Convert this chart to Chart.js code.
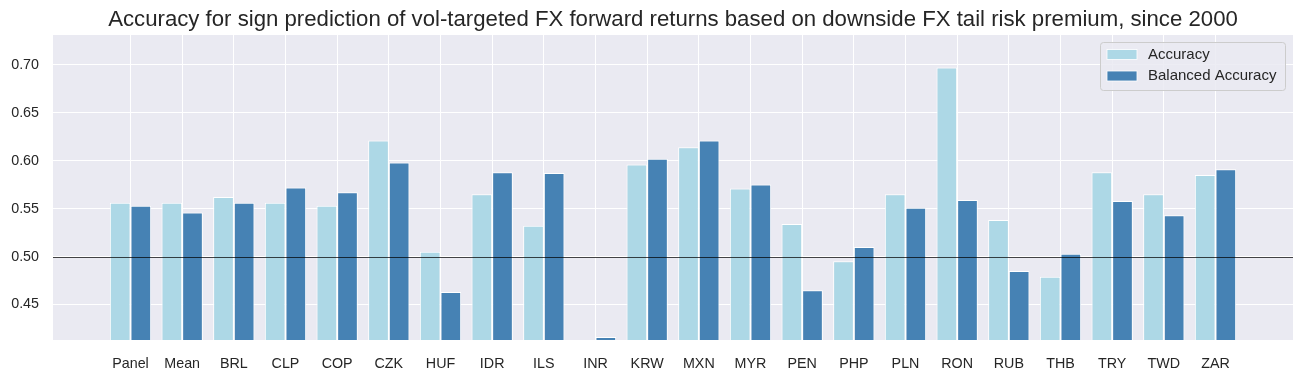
<!DOCTYPE html>
<html>
<head>
<meta charset="utf-8">
<script src="https://cdn.jsdelivr.net/npm/chart.js@4.4.1/dist/chart.umd.min.js"></script>
<style>
  html, body { margin: 0; padding: 0; background: #ffffff; }
  #wrap { width: 1303px; height: 379px; }
</style>
</head>
<body>
<div id="wrap"><canvas id="c" width="1303" height="379"></canvas></div>
<script>
const categories = ['Panel','Mean','BRL','CLP','COP','CZK','HUF','IDR','ILS','INR','KRW','MXN','MYR','PEN','PHP','PLN','RON','RUB','THB','TRY','TWD','ZAR'];
const accuracy = [0.556,0.556,0.562,0.556,0.553,0.621,0.505,0.565,0.532,0.400,0.596,0.614,0.571,0.534,0.495,0.565,0.697,0.538,0.479,0.588,0.565,0.585];
const balancedAccuracy = [0.553,0.546,0.556,0.572,0.567,0.598,0.463,0.588,0.587,0.416,0.602,0.621,0.575,0.465,0.510,0.551,0.559,0.485,0.503,0.558,0.543,0.591];
const yTicks = [0.45,0.50,0.55,0.60,0.65,0.70];
const seriesNames = ['Accuracy','Balanced Accuracy'];
const titleText = 'Accuracy for sign prediction of vol-targeted FX forward returns based on downside FX tail risk premium, since 2000';

const FONT = "'Liberation Sans', Arial, sans-serif";
const TEXT = '#262626';
const COL_ACC = '#add8e6';
const COL_BAL = '#4682b4';

// padding categories at both ends to reproduce the wide side margins
const labels = [''].concat(categories, ['']);
const pad = arr => [null].concat(arr, [null]);
const lastIdx = labels.length - 1;

const bgPlugin = {
  id: 'bg',
  beforeDraw(chart) {
    const {ctx, chartArea: a} = chart;
    ctx.save();
    ctx.fillStyle = '#eaeaf2';
    ctx.fillRect(a.left, a.top, a.right - a.left, a.bottom - a.top);
    ctx.restore();
  }
};

const titlePlugin = {
  id: 'titleCentered',
  afterDraw(chart) {
    const {ctx, chartArea: a} = chart;
    ctx.save();
    ctx.font = '22.2px ' + FONT;
    ctx.fillStyle = TEXT;
    ctx.textAlign = 'center';
    ctx.textBaseline = 'alphabetic';
    ctx.fillText(titleText, (a.left + a.right) / 2, 26);
    ctx.restore();
  }
};

const refLinePlugin = {
  id: 'refline',
  afterDatasetsDraw(chart) {
    const {ctx, chartArea: a, scales} = chart;
    const y = Math.round(scales.y.getPixelForValue(0.5)) + 0.5;
    ctx.save();
    ctx.strokeStyle = 'rgba(0,0,0,0.8)';
    ctx.lineWidth = 0.9;
    ctx.beginPath();
    ctx.moveTo(a.left, y);
    ctx.lineTo(a.right, y);
    ctx.stroke();
    ctx.restore();
  }
};

const legendPlugin = {
  id: 'customLegend',
  afterDraw(chart) {
    const {ctx, chartArea: a} = chart;
    const w = 185, h = 48;
    const x = a.right - 8 - w, y = a.top + 7;
    ctx.save();
    ctx.beginPath();
    if (ctx.roundRect) ctx.roundRect(x + 0.5, y + 0.5, w, h, 3); else ctx.rect(x + 0.5, y + 0.5, w, h);
    ctx.fillStyle = 'rgba(234,234,242,0.85)';
    ctx.fill();
    ctx.strokeStyle = '#cccccc';
    ctx.lineWidth = 1;
    ctx.stroke();
    const cols = [COL_ACC, COL_BAL];
    ctx.font = '15px ' + FONT;
    ctx.textBaseline = 'middle';
    for (let i = 0; i < 2; i++) {
      const cy = y + 12.5 + i * 21.5;
      ctx.fillStyle = cols[i];
      ctx.fillRect(x + 7, cy - 5, 30, 10);
      ctx.strokeStyle = '#ffffff';
      ctx.lineWidth = 0.8;
      ctx.strokeRect(x + 7, cy - 5, 30, 10);
      ctx.fillStyle = TEXT;
      ctx.fillText(seriesNames[i], x + 48, cy);
    }
    ctx.restore();
  }
};

new Chart(document.getElementById('c'), {
  type: 'bar',
  data: {
    labels: labels,
    datasets: [
      { label: seriesNames[0], data: pad(accuracy), backgroundColor: COL_ACC, borderColor: '#ffffff', borderWidth: 1, borderSkipped: false },
      { label: seriesNames[1], data: pad(balancedAccuracy), backgroundColor: COL_BAL, borderColor: '#ffffff', borderWidth: 1, borderSkipped: false }
    ]
  },
  options: {
    responsive: false,
    animation: false,
    devicePixelRatio: 1,
    layout: { padding: { left: 0, right: 10, top: 35, bottom: 0 } },
    datasets: { bar: { categoryPercentage: 0.8, barPercentage: 1.0 } },
    plugins: {
      legend: { display: false },
      tooltip: { enabled: false },
      title: { display: false }
    },
    scales: {
      x: {
        grid: {
          offset: false,
          drawTicks: false,
          color: ctx => (ctx.index === 0 || ctx.index === lastIdx) ? 'rgba(0,0,0,0)' : '#ffffff',
          lineWidth: 1
        },
        border: { display: false },
        ticks: { color: TEXT, font: { family: FONT, size: 14.3 }, padding: 15, autoSkip: false, maxRotation: 0 },
        afterFit(scale) { scale.height = 39; }
      },
      y: {
        min: 0.413,
        max: 0.731,
        grid: { drawTicks: false, color: '#ffffff', lineWidth: 1 },
        border: { display: false },
        ticks: { color: TEXT, font: { family: FONT, size: 14.3 }, padding: 14, callback: v => v.toFixed(2) },
        afterBuildTicks(scale) { scale.ticks = yTicks.map(v => ({ value: v })); },
        afterFit(scale) { scale.width = 53; }
      }
    }
  },
  plugins: [bgPlugin, refLinePlugin, legendPlugin, titlePlugin]
});
</script>
</body>
</html>
